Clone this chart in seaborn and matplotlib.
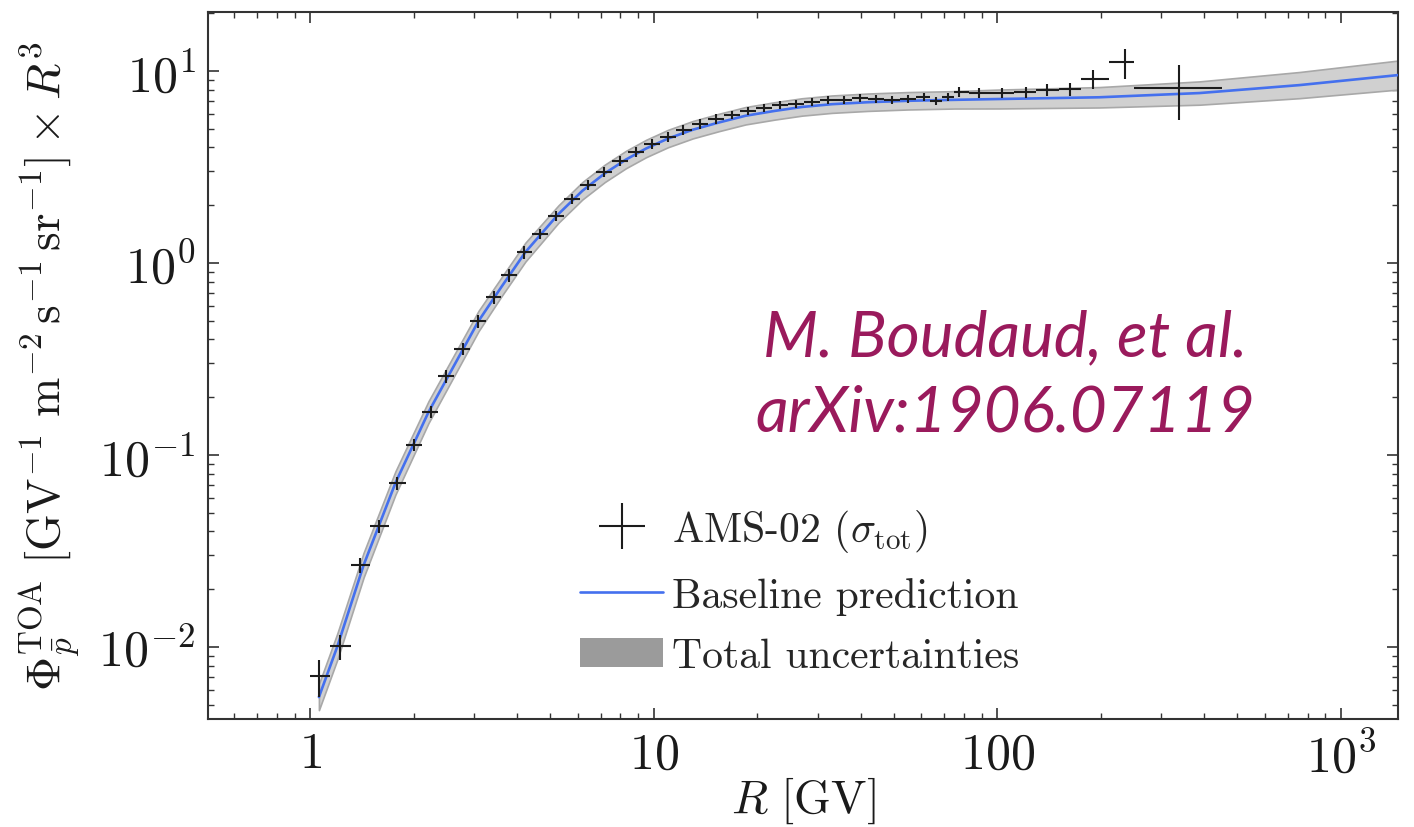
import numpy as np
import matplotlib
matplotlib.use("Agg")
import matplotlib.pyplot as plt
import seaborn as sns
from matplotlib.patches import Patch
from matplotlib.lines import Line2D
from matplotlib.legend_handler import HandlerErrorbar
from matplotlib.container import ErrorbarContainer
from matplotlib.ticker import FixedLocator, FixedFormatter, LogLocator, NullFormatter

# ---------------- data ----------------
# AMS-02 antiproton flux x R^3
rigidity = [1.06, 1.22, 1.40, 1.59, 1.79, 2.01, 2.24, 2.49, 2.78, 3.07,
            3.42, 3.80, 4.18, 4.65, 5.18, 5.77, 6.42, 7.15, 7.96, 8.86,
            9.87, 11.0, 12.2, 13.6, 15.2, 16.9, 18.8, 20.9, 23.3, 25.9,
            28.9, 32.2, 35.8, 39.9, 44.4, 49.4, 55.0, 61.3, 66.4, 72.0,
            77.5, 88.6, 103, 121, 140, 163, 190, 235, 339]
flux_r3 = [0.00706, 0.0101, 0.0267, 0.0427, 0.0715, 0.113, 0.168, 0.258, 0.357, 0.499,
           0.665, 0.866, 1.14, 1.42, 1.76, 2.15, 2.55, 2.98, 3.40, 3.79,
           4.17, 4.53, 4.93, 5.30, 5.62, 5.90, 6.19, 6.42, 6.65, 6.73,
           6.89, 7.06, 7.06, 7.24, 7.15, 7.06, 7.15, 7.32, 6.98, 7.32,
           7.77, 7.68, 7.68, 7.77, 7.96, 8.06, 9.09, 11.1, 8.15]
flux_relerr = [0.22, 0.15, 0.09, 0.075, 0.075, 0.075, 0.075, 0.075, 0.075, 0.075,
               0.075, 0.075, 0.075, 0.06, 0.06, 0.06, 0.06, 0.06, 0.06, 0.06,
               0.06, 0.06, 0.06, 0.06, 0.06, 0.05, 0.05, 0.05, 0.05, 0.05,
               0.05, 0.05, 0.05, 0.05, 0.05, 0.05, 0.05, 0.05, 0.05, 0.05,
               0.06, 0.06, 0.06, 0.065, 0.07, 0.08, 0.11, 0.18, 0.32]
bin_edges = [1.00, 1.14, 1.31, 1.49, 1.69, 1.90, 2.12, 2.36, 2.63, 2.92,
             3.24, 3.60, 3.99, 4.41, 4.91, 5.47, 6.09, 6.78, 7.54, 8.40,
             9.35, 10.4, 11.6, 12.9, 14.4, 16.0, 17.8, 19.8, 22.1, 24.6,
             27.4, 30.5, 33.9, 37.8, 42.1, 46.8, 52.2, 58.1, 63.8, 69.1,
             74.7, 82.9, 95.7, 112, 130, 151, 175, 211, 250, 450]

# Baseline prediction and its total uncertainty band
model_rigidity = [1.06, 1.20, 1.43, 1.77, 2.21, 3.09, 3.60, 4.23, 5.28, 6.2,
                  7.2, 8.3, 9.5, 11.0, 13.0, 15.5, 18.5, 22.5, 27.0, 33.0,
                  42.0, 55.0, 75.0, 101, 198, 388, 759, 1470]
model_flux_r3 = [0.00549, 0.0101, 0.0267, 0.0715, 0.1675, 0.499, 0.75, 1.14, 1.80, 2.38,
                 2.93, 3.46, 3.95, 4.45, 4.95, 5.4, 5.85, 6.2, 6.5, 6.72,
                 6.88, 7.0, 7.08, 7.15, 7.3, 7.68, 8.45, 9.53]
model_band_factor = [1.17, 1.17, 1.16, 1.15, 1.14, 1.13, 1.12, 1.12, 1.11, 1.11,
                     1.11, 1.11, 1.11, 1.11, 1.11, 1.11, 1.11, 1.11, 1.11, 1.11,
                     1.11, 1.11, 1.11, 1.12, 1.13, 1.15, 1.17, 1.19]

x_tick_values = [1, 10, 100, 1000]
x_tick_labels = [r"$1$", r"$10$", r"$100$", r"$10^{3}$"]
y_tick_values = [0.01, 0.1, 1, 10]
y_tick_labels = [r"$10^{-2}$", r"$10^{-1}$", r"$10^{0}$", r"$10^{1}$"]
legend_labels = [r"AMS-02 ($\sigma_{\mathrm{tot}}$)", "Baseline prediction", "Total uncertainties"]
annotation = "M. Boudaud, et al.\narXiv:1906.07119"

# ---------------- style ----------------
sns.set_theme(style="ticks")
plt.rcParams.update({
    "mathtext.fontset": "cm",
    "font.family": ["serif"],
    "font.serif": ["cmr10", "DejaVu Serif"],
    "axes.formatter.use_mathtext": True,
    "axes.unicode_minus": False,
})

fig = plt.figure(figsize=(14.14, 8.28), dpi=100)
ax = fig.add_axes([208 / 1414, 1 - 720 / 828, 1190 / 1414, 707 / 828])
ax.set_xscale("log")
ax.set_yscale("log")

blue = "#4470ee"

# band
mf = np.array(model_flux_r3)
bf = np.array(model_band_factor)
ax.fill_between(model_rigidity, mf / bf, mf * bf, facecolor="#d0d0d0",
                edgecolor="#a8a8a8", linewidth=1.2, zorder=1)

# baseline line
sns.lineplot(x=model_rigidity, y=model_flux_r3, ax=ax, color=blue, lw=1.9,
             estimator=None, sort=False, zorder=3)

# data
R = np.array(rigidity)
F = np.array(flux_r3)
E = np.array(bin_edges)
xerr = [R - E[:-1], E[1:] - R]
yerr = [F * np.array(flux_relerr), F * np.array(flux_relerr)]
eb = ax.errorbar(R, F, xerr=xerr, yerr=yerr, fmt="none", ecolor="#1c1c1c",
                 elinewidth=1.5, capsize=0, zorder=4)

ax.set_xlim(0.504, 1467)
ax.set_ylim(0.00422, 20.3)

ax.xaxis.set_major_locator(FixedLocator(x_tick_values))
ax.xaxis.set_major_formatter(FixedFormatter(x_tick_labels))
ax.yaxis.set_major_locator(FixedLocator(y_tick_values))
ax.yaxis.set_major_formatter(FixedFormatter(y_tick_labels))
for axis in (ax.xaxis, ax.yaxis):
    axis.set_minor_locator(LogLocator(base=10, subs=np.arange(2, 10), numticks=20))
    axis.set_minor_formatter(NullFormatter())

ax.tick_params(which="both", direction="in", top=True, right=True, color="#333333")
ax.tick_params(which="major", length=8, width=1.2, labelsize=36, pad=9, labelcolor="#1a1a1a")
ax.tick_params(which="minor", length=4, width=1.0)
for s in ax.spines.values():
    s.set_color("#333333")
    s.set_linewidth(1.5)

ax.set_xlabel(r"$R\ [\mathrm{GV}]$", fontsize=34, color="#1a1a1a")
ax.xaxis.set_label_coords(0.5, -0.078)
ax.set_ylabel(r"$\Phi_{\bar{p}}^{\mathrm{TOA}}\ [\mathrm{GV}^{-1}\ \mathrm{m}^{-2}\,\mathrm{s}^{-1}\,"
              r"\mathrm{sr}^{-1}]\times R^{3}$", fontsize=34, color="#1a1a1a")
ax.yaxis.set_label_coords(-0.105, 0.5)

handles = [eb, Line2D([], [], color=blue, lw=1.9),
           Patch(facecolor="#9b9b9b", edgecolor="none")]
ax.legend(handles, legend_labels, loc="upper left", bbox_to_anchor=(0.3126, 0.30),
          frameon=False, prop={"family": "cmr10", "size": 30},
          handlelength=2.0, handletextpad=0.22, labelspacing=0.55,
          borderaxespad=0, borderpad=0,
          handler_map={ErrorbarContainer: HandlerErrorbar(xerr_size=0.55)})

ax.text(0.670, 0.4866, annotation, transform=ax.transAxes, ha="center", va="center",
        fontsize=46, fontstyle="italic", family="Lato", color="#9a1a5c",
        linespacing=1.35)

fig.savefig("out.png", dpi=100)
